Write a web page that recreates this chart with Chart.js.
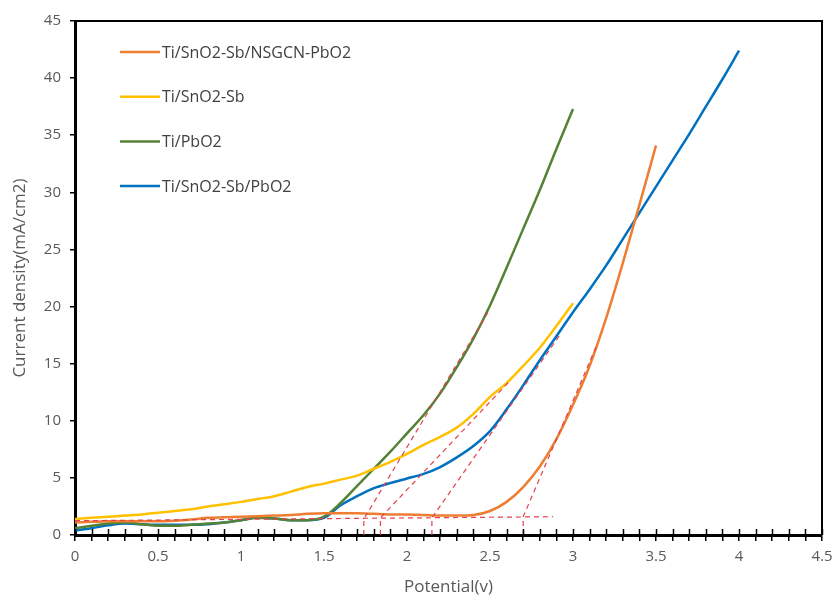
<!DOCTYPE html>
<html>
<head>
<meta charset="utf-8">
<script src="https://cdn.jsdelivr.net/npm/chart.js@4"></script>
<style>
  html, body { margin: 0; padding: 0; background: #ffffff; }
  #wrap { width: 834px; height: 597px; }
</style>
</head>
<body>
<div id="wrap"><canvas id="chart" width="834" height="597"></canvas></div>
<script>
// Series labels (legend order)
const seriesLabels = ['Ti/SnO2-Sb/NSGCN-PbO2', 'Ti/SnO2-Sb', 'Ti/PbO2', 'Ti/SnO2-Sb/PbO2'];
const seriesColors = ['#ED7D31', '#FFC000', '#548235', '#0070C0'];

// Potential (V) sample points
const potentialTo30 = [0, 0.1, 0.2, 0.3, 0.4, 0.5, 0.6, 0.7, 0.8, 0.9, 1.0, 1.1, 1.2, 1.3, 1.4, 1.5,
  1.6, 1.7, 1.8, 1.9, 2.0, 2.1, 2.2, 2.3, 2.4, 2.5, 2.6, 2.7, 2.8, 2.9, 3.0];
const potentialTo35 = potentialTo30.concat([3.1, 3.2, 3.3, 3.4, 3.5]);
const potentialTo40 = potentialTo35.concat([3.6, 3.7, 3.8, 3.9, 4.0]);

// Current density (mA/cm2)
const nsgcnCurrent = [1.1, 1.15, 1.2, 1.2, 1.2, 1.2, 1.25, 1.35, 1.5, 1.55, 1.6, 1.65, 1.7, 1.75, 1.85, 1.9,
  1.9, 1.9, 1.85, 1.8, 1.8, 1.75, 1.7, 1.7, 1.75, 2.1, 2.9, 4.2, 6.0, 8.4, 11.4,
  14.8, 19.0, 23.8, 28.9, 34.1];
const snsbCurrent = [1.4, 1.5, 1.6, 1.7, 1.8, 1.95, 2.1, 2.25, 2.5, 2.7, 2.9, 3.15, 3.4, 3.8, 4.2, 4.5,
  4.85, 5.2, 5.8, 6.4, 7.1, 7.9, 8.6, 9.4, 10.6, 12.1, 13.3, 14.8, 16.4, 18.3, 20.3];
const pbo2Current = [0.6, 0.8, 1.0, 1.1, 0.95, 0.8, 0.8, 0.9, 1.0, 1.1, 1.3, 1.5, 1.45, 1.3, 1.3, 1.6,
  2.8, 4.3, 5.8, 7.3, 8.9, 10.5, 12.4, 14.7, 17.2, 20.1, 23.4, 26.8, 30.2, 33.8, 37.3];
const snsbPbo2Current = [0.4, 0.6, 0.85, 1.0, 0.95, 0.9, 0.9, 0.9, 0.95, 1.1, 1.3, 1.5, 1.45, 1.3, 1.3, 1.5,
  2.6, 3.4, 4.1, 4.55, 4.95, 5.35, 5.95, 6.8, 7.8, 9.1, 11.0, 13.1, 15.3, 17.4, 19.5,
  21.5, 23.6, 25.9, 28.2, 30.5, 32.8, 35.1, 37.5, 39.9, 42.4];

// Red dashed construction lines (baseline + tangents with drop lines)
const baselineX = [0, 2.88];
const baselineY = [1.25, 1.6];
const tangentPbo2X = [1.74, 1.74, 2.5];
const tangentPbo2Y = [0, 1.4, 19.8];
const tangentSnsbX = [1.84, 1.84, 2.62];
const tangentSnsbY = [0, 1.5, 13.5];
const tangentSnsbPbo2X = [2.15, 2.15, 2.93];
const tangentSnsbPbo2Y = [0, 1.5, 17.7];
const tangentNsgcnX = [2.70, 2.70, 3.14];
const tangentNsgcnY = [0, 1.6, 16.5];

// Axis ticks
const xMin = 0, xMax = 4.5, xMinorStep = 0.1;
const yMin = 0, yMax = 45, yStep = 5;

const toPoints = (xs, ys) => xs.map((x, i) => ({ x, y: ys[i] }));

const curveSets = [
  toPoints(potentialTo35, nsgcnCurrent),
  toPoints(potentialTo30, snsbCurrent),
  toPoints(potentialTo30, pbo2Current),
  toPoints(potentialTo40, snsbPbo2Current)
];

const guideColor = '#E4404E';
const guideSets = [
  toPoints(baselineX, baselineY),
  toPoints(tangentPbo2X, tangentPbo2Y),
  toPoints(tangentSnsbX, tangentSnsbY),
  toPoints(tangentSnsbPbo2X, tangentSnsbPbo2Y),
  toPoints(tangentNsgcnX, tangentNsgcnY)
];

const datasets = curveSets.map((pts, i) => ({
  label: seriesLabels[i],
  data: pts,
  borderColor: seriesColors[i],
  backgroundColor: seriesColors[i],
  borderWidth: 2.5,
  pointRadius: 0,
  cubicInterpolationMode: 'monotone',
  fill: false,
  order: 1
})).concat(guideSets.map(pts => ({
  label: '',
  data: pts,
  borderColor: guideColor,
  borderWidth: 1.2,
  borderDash: [5, 4],
  pointRadius: 0,
  tension: 0,
  fill: false,
  order: 0
})));

// Legend drawn inside the plot, stacked with wide spacing
const insideLegend = {
  id: 'insideLegend',
  afterDraw(chart) {
    const { ctx, chartArea } = chart;
    ctx.save();
    ctx.font = '16px "Open Sans", sans-serif';
    ctx.textBaseline = 'middle';
    seriesLabels.forEach((label, i) => {
      const y = chartArea.top + 31 + i * 44.7;
      const x0 = chartArea.left + 45;
      ctx.strokeStyle = seriesColors[i];
      ctx.lineWidth = 2.5;
      ctx.beginPath();
      ctx.moveTo(x0, y);
      ctx.lineTo(x0 + 40, y);
      ctx.stroke();
      ctx.fillStyle = '#404040';
      ctx.fillText(label, x0 + 42, y + 1);
    });
    ctx.restore();
  }
};

// Black frame around the plot plus inward half of the x ticks
const plotFrame = {
  id: 'plotFrame',
  afterDraw(chart) {
    const { ctx, chartArea, scales } = chart;
    ctx.save();
    ctx.strokeStyle = '#000000';
    ctx.lineWidth = 2;
    ctx.beginPath();
    ctx.moveTo(chartArea.left, chartArea.top);
    ctx.lineTo(chartArea.right, chartArea.top);
    ctx.lineTo(chartArea.right, chartArea.bottom);
    ctx.stroke();
    ctx.lineWidth = 1.5;
    scales.x.ticks.forEach(t => {
      const px = Math.round(scales.x.getPixelForValue(t.value)) + 0.5;
      ctx.beginPath();
      ctx.moveTo(px, chartArea.bottom);
      ctx.lineTo(px, chartArea.bottom - 6);
      ctx.stroke();
    });
    ctx.restore();
  }
};

const tickFont = { family: '"Open Sans", sans-serif', size: 15 };
const titleFont = { family: '"Open Sans", sans-serif', size: 17 };

new Chart(document.getElementById('chart'), {
  type: 'line',
  data: { datasets },
  options: {
    responsive: false,
    animation: false,
    layout: { padding: { left: 0, right: 12, top: 21, bottom: 0 } },
    plugins: {
      legend: { display: false },
      tooltip: { enabled: false }
    },
    scales: {
      x: {
        type: 'linear',
        min: xMin,
        max: xMax,
        afterFit(scale) {
          scale.height = 62;
          scale.paddingRight = 0;
          scale.paddingLeft = 0;
        },
        ticks: {
          stepSize: xMinorStep,
          autoSkip: false,
          maxRotation: 0,
          minRotation: 0,
          padding: 7,
          color: '#595959',
          font: tickFont,
          callback(v) {
            return Math.abs(v * 2 - Math.round(v * 2)) < 1e-6 ? String(Math.round(v * 10) / 10) : '';
          }
        },
        grid: { display: true, drawOnChartArea: false, drawTicks: true, tickLength: 6, color: '#000000', lineWidth: 1.5 },
        border: { display: true, color: '#000000', width: 3 },
        title: { display: true, text: 'Potential(v)', color: '#595959', font: titleFont, padding: 0 }
      },
      y: {
        type: 'linear',
        min: yMin,
        max: yMax,
        afterFit(scale) { scale.width = 75; },
        ticks: { stepSize: yStep, padding: 9, color: '#595959', font: tickFont },
        grid: { display: true, drawOnChartArea: false, drawTicks: true, tickLength: 5, color: '#000000', lineWidth: 1.5 },
        border: { display: true, color: '#000000', width: 3 },
        title: { display: true, text: 'Current density(mA/cm2)', color: '#595959', font: titleFont, padding: 10 }
      }
    }
  },
  plugins: [insideLegend, plotFrame]
});
</script>
</body>
</html>
